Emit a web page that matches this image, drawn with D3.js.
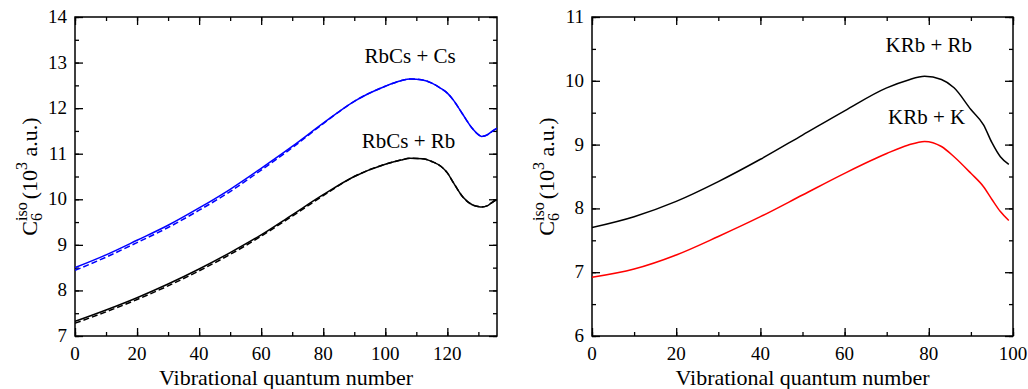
<!DOCTYPE html>
<html><head><meta charset="utf-8"><script src="https://cdn.jsdelivr.net/npm/d3@7"></script></head>
<body style="margin:0">
<svg id="chart" width="1028" height="389"></svg>
<script>
// left panel: RbCs
const rbcsV = [0, 10, 20, 30, 40, 50, 60, 70, 80, 90, 100, 105, 108, 112, 115, 118, 120, 122, 125, 128, 130, 131, 133, 134, 136];
const rbcsCs = [8.50, 8.78, 9.10, 9.43, 9.81, 10.22, 10.68, 11.16, 11.67, 12.15, 12.48, 12.60, 12.64, 12.62, 12.55, 12.43, 12.33, 12.17, 11.86, 11.56, 11.42, 11.38, 11.42, 11.47, 11.56];
const rbcsCsDash = [8.44, 8.73, 9.05, 9.38, 9.76, 10.17, 10.64, 11.13, 11.66, 12.15, 12.48, 12.60, 12.64, 12.62, 12.55, 12.43, 12.33, 12.17, 11.86, 11.56, 11.42, 11.38, 11.42, 11.47, 11.56];
const rbcsRb = [7.32, 7.57, 7.84, 8.14, 8.47, 8.83, 9.22, 9.66, 10.10, 10.50, 10.77, 10.86, 10.90, 10.89, 10.83, 10.72, 10.58, 10.36, 10.05, 9.88, 9.84, 9.83, 9.86, 9.91, 10.00];
const rbcsRbDash = [7.28, 7.53, 7.80, 8.10, 8.43, 8.79, 9.19, 9.63, 10.08, 10.50, 10.77, 10.86, 10.90, 10.89, 10.83, 10.72, 10.58, 10.36, 10.05, 9.88, 9.84, 9.83, 9.86, 9.91, 10.00];

// right panel: KRb
const krbV = [0, 10, 20, 30, 40, 50, 60, 70, 75, 79, 83, 86, 90, 93, 95, 97, 99];
const krbRb = [7.70, 7.87, 8.11, 8.42, 8.77, 9.15, 9.53, 9.89, 10.01, 10.07, 10.02, 9.89, 9.55, 9.31, 9.03, 8.81, 8.69];
const krbK = [6.92, 7.05, 7.27, 7.56, 7.87, 8.21, 8.55, 8.86, 8.99, 9.05, 8.97, 8.81, 8.55, 8.34, 8.14, 7.95, 7.81];

const leftXTicks = [0, 20, 40, 60, 80, 100, 120];
const leftYTicks = [7, 8, 9, 10, 11, 12, 13, 14];
const rightXTicks = [0, 20, 40, 60, 80, 100];
const rightYTicks = [6, 7, 8, 9, 10, 11];

const svg = d3.select('#chart');
const plotTop = 17, plotBottom = 336;

function serif(sel, size) {
  return sel.attr('font-family', 'Times New Roman, Liberation Serif, serif').attr('font-size', size);
}

function panel(cfg) {
  const g = svg.append('g');
  const x = d3.scaleLinear().domain(cfg.xDomain).range([cfg.left, cfg.right]);
  const y = d3.scaleLinear().domain(cfg.yDomain).range([plotBottom, plotTop]);

  const xMinor = d3.range(cfg.xDomain[0], cfg.xDomain[1] + 0.01, 10);
  const yMinor = d3.range(cfg.yDomain[0], cfg.yDomain[1] + 0.01, 0.5);

  // tick marks only (no labels) on all four sides, pointing inwards
  const marks = (axis, vals, size, tr) => g.append('g').attr('transform', tr)
    .call(axis.tickValues(vals).tickSizeInner(-size).tickSizeOuter(0).tickFormat(''));
  marks(d3.axisBottom(x), xMinor, 4, `translate(0,${plotBottom})`);
  marks(d3.axisTop(x), xMinor, 4, `translate(0,${plotTop})`);
  marks(d3.axisLeft(y), yMinor, 4, `translate(${cfg.left},0)`);
  marks(d3.axisRight(y), yMinor, 4, `translate(${cfg.right},0)`);
  marks(d3.axisBottom(x), cfg.xTicks, 8, `translate(0,${plotBottom})`);
  marks(d3.axisTop(x), cfg.xTicks, 8, `translate(0,${plotTop})`);
  marks(d3.axisLeft(y), cfg.yTicks, 8, `translate(${cfg.left},0)`);
  marks(d3.axisRight(y), cfg.yTicks, 8, `translate(${cfg.right},0)`);

  g.selectAll('.domain').remove();
  g.selectAll('.tick text').remove();
  g.selectAll('.tick line').attr('stroke', '#000').attr('stroke-width', 1.3);

  // tick labels as plain text placed by the scales
  cfg.xTicks.forEach(t => {
    serif(g.append('text'), 19)
      .attr('x', x(t)).attr('y', plotBottom + 24)
      .attr('text-anchor', 'middle').attr('fill', '#000')
      .text(t);
  });
  cfg.yTicks.forEach(t => {
    serif(g.append('text'), 19)
      .attr('x', cfg.left - 8).attr('y', y(t) + 6)
      .attr('text-anchor', 'end').attr('fill', '#000')
      .text(t);
  });

  // frame
  g.append('rect')
    .attr('x', cfg.left).attr('y', plotTop)
    .attr('width', cfg.right - cfg.left).attr('height', plotBottom - plotTop)
    .attr('fill', 'none').attr('stroke', '#000').attr('stroke-width', 1.5);

  const clipId = 'clip' + cfg.id;
  g.append('clipPath').attr('id', clipId).append('rect')
    .attr('x', cfg.left).attr('y', plotTop)
    .attr('width', cfg.right - cfg.left).attr('height', plotBottom - plotTop);

  cfg.series.forEach(s => {
    const line = d3.line()
      .x((d, i) => x(cfg.v[i]))
      .y(d => y(d))
      .curve(d3.curveMonotoneX);
    g.append('path')
      .datum(s.values)
      .attr('clip-path', `url(#${clipId})`)
      .attr('d', line)
      .attr('fill', 'none')
      .attr('stroke', s.color)
      .attr('stroke-width', 1.5)
      .attr('stroke-dasharray', s.dash || null);
  });

  cfg.labels.forEach(l => {
    serif(g.append('text'), 21)
      .attr('x', x(l.v)).attr('y', y(l.y))
      .attr('text-anchor', 'middle')
      .text(l.text);
  });

  // x title
  serif(g.append('text'), 22)
    .attr('x', (cfg.left + cfg.right) / 2).attr('y', 385)
    .attr('text-anchor', 'middle')
    .text('Vibrational quantum number');

  // y title
  const yt = serif(g.append('text'), 22)
    .attr('transform', `translate(${cfg.left - 38},${(plotTop + plotBottom) / 2}) rotate(-90)`)
    .attr('text-anchor', 'middle');
  yt.append('tspan').text('C');
  yt.append('tspan').attr('baseline-shift', '-30%').attr('font-size', 16).text('6');
  yt.append('tspan').attr('dx', -8).attr('baseline-shift', '65%').attr('font-size', 16).text('iso');
  yt.append('tspan').attr('dx', 3).text('(10');
  yt.append('tspan').attr('baseline-shift', '65%').attr('font-size', 16).text('3');
  yt.append('tspan').text(' a.u.)');
}

panel({
  id: 'L', left: 75, right: 497, xDomain: [0, 136], yDomain: [7, 14],
  xTicks: leftXTicks, yTicks: leftYTicks, v: rbcsV,
  series: [
    { values: rbcsCsDash, color: '#0000ff', dash: '6,3' },
    { values: rbcsCs, color: '#0000ff' },
    { values: rbcsRbDash, color: '#000', dash: '6,3' },
    { values: rbcsRb, color: '#000' }
  ],
  labels: [
    { text: 'RbCs + Cs', v: 108, y: 13.0 },
    { text: 'RbCs + Rb', v: 107.5, y: 11.13 }
  ]
});

panel({
  id: 'R', left: 592, right: 1013, xDomain: [0, 100], yDomain: [6, 11],
  xTicks: rightXTicks, yTicks: rightYTicks, v: krbV,
  series: [
    { values: krbRb, color: '#000' },
    { values: krbK, color: '#ff0000' }
  ],
  labels: [
    { text: 'KRb + Rb', v: 80, y: 10.45 },
    { text: 'KRb + K', v: 79.5, y: 9.33 }
  ]
});
</script>
</body>
</html>
